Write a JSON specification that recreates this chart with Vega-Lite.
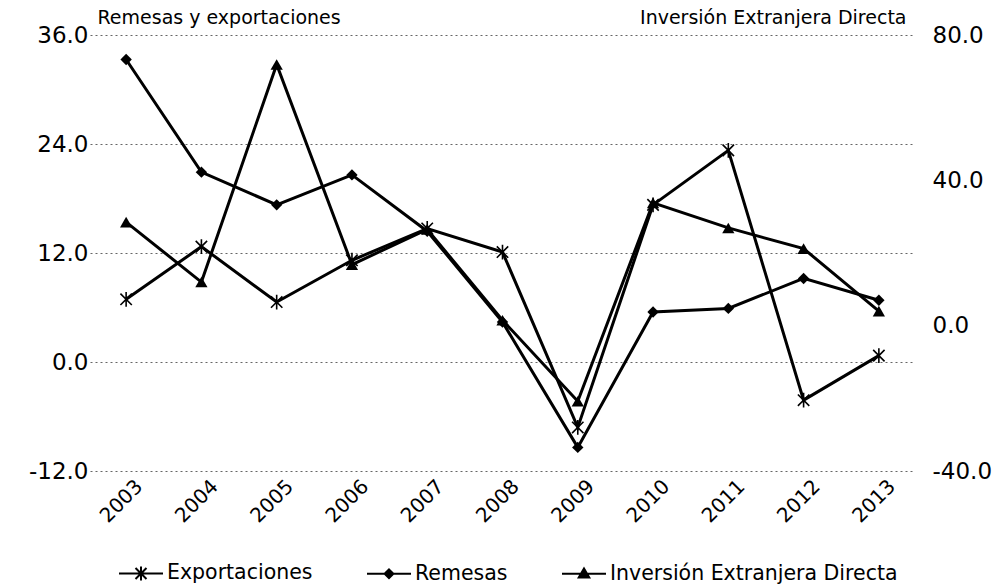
{
  "$schema": "https://vega.github.io/schema/vega-lite/v6.json",
  "autosize": {"type": "none"},
  "padding": {"left": 90, "top": 35, "right": 80, "bottom": 115},
  "width": 825,
  "height": 436,
  "background": "white",
  "config": {
    "view": {"stroke": null},
    "font": "DejaVu Sans",
    "locale": {"number": {"decimal": ".", "thousands": ",", "grouping": [3], "currency": ["$", ""], "minus": "-"}},
    "axis": {"labelFont": "DejaVu Sans", "titleFont": "DejaVu Sans", "labelColor": "#000", "titleColor": "#000"}
  },
  "data": {
    "values": [
      {"year": "2003", "series": "Exportaciones", "value": 6.9},
      {"year": "2004", "series": "Exportaciones", "value": 12.7},
      {"year": "2005", "series": "Exportaciones", "value": 6.6},
      {"year": "2006", "series": "Exportaciones", "value": 11.2},
      {"year": "2007", "series": "Exportaciones", "value": 14.7},
      {"year": "2008", "series": "Exportaciones", "value": 12.1},
      {"year": "2009", "series": "Exportaciones", "value": -7.2},
      {"year": "2010", "series": "Exportaciones", "value": 17.3},
      {"year": "2011", "series": "Exportaciones", "value": 23.3},
      {"year": "2012", "series": "Exportaciones", "value": -4.2},
      {"year": "2013", "series": "Exportaciones", "value": 0.7},
      {"year": "2003", "series": "Remesas", "value": 33.3},
      {"year": "2004", "series": "Remesas", "value": 20.9},
      {"year": "2005", "series": "Remesas", "value": 17.3},
      {"year": "2006", "series": "Remesas", "value": 20.6},
      {"year": "2007", "series": "Remesas", "value": 14.4},
      {"year": "2008", "series": "Remesas", "value": 4.4},
      {"year": "2009", "series": "Remesas", "value": -9.4},
      {"year": "2010", "series": "Remesas", "value": 5.5},
      {"year": "2011", "series": "Remesas", "value": 5.9},
      {"year": "2012", "series": "Remesas", "value": 9.2},
      {"year": "2013", "series": "Remesas", "value": 6.8},
      {"year": "2003", "series": "Inversión Extranjera Directa", "value": 28.5},
      {"year": "2004", "series": "Inversión Extranjera Directa", "value": 12.0},
      {"year": "2005", "series": "Inversión Extranjera Directa", "value": 71.9},
      {"year": "2006", "series": "Inversión Extranjera Directa", "value": 16.8},
      {"year": "2007", "series": "Inversión Extranjera Directa", "value": 26.5},
      {"year": "2008", "series": "Inversión Extranjera Directa", "value": 1.5},
      {"year": "2009", "series": "Inversión Extranjera Directa", "value": -20.8},
      {"year": "2010", "series": "Inversión Extranjera Directa", "value": 33.8},
      {"year": "2011", "series": "Inversión Extranjera Directa", "value": 26.9},
      {"year": "2012", "series": "Inversión Extranjera Directa", "value": 21.2},
      {"year": "2013", "series": "Inversión Extranjera Directa", "value": 4.0}
    ]
  },
  "encoding": {
    "x": {
      "field": "year", "type": "ordinal",
      "scale": {"type": "point", "padding": 0.48},
      "axis": {
        "title": null, "domain": false, "ticks": false, "grid": false,
        "labelAngle": -45, "labelAlign": "right", "labelBaseline": "middle",
        "labelFontSize": 20, "labelPadding": 12, "labelOffset": 13
      }
    }
  },
  "layer": [
    {
      "transform": [{"filter": "datum.series !== 'Inversión Extranjera Directa'"}],
      "encoding": {
        "y": {
          "field": "value", "type": "quantitative",
          "scale": {"domain": [-12, 36], "nice": false, "zero": false},
          "axis": {
            "orient": "left", "values": [-12, 0, 12, 24, 36], "format": ".1f",
            "domain": false, "ticks": false, "labelFontSize": 23, "labelPadding": 2,
            "grid": true, "gridColor": "#666", "gridDash": [2, 3], "gridWidth": 1,
            "title": "Remesas y exportaciones", "titleAngle": 0, "titleAlign": "left",
            "titleBaseline": "alphabetic", "titleX": 7, "titleY": -12,
            "titleFontSize": 19, "titleFontWeight": "normal"
          }
        }
      },
      "layer": [
        {
          "mark": {"type": "line", "color": "#000", "strokeWidth": 3},
          "encoding": {"detail": {"field": "series"}}
        },
        {
          "transform": [{"filter": "datum.series === 'Exportaciones'"}],
          "mark": {"type": "point", "shape": "M-1,-1L1,1M-1,1L1,-1M0,-1.3L0,1.3", "filled": false, "stroke": "#000", "strokeWidth": 1.6, "size": 130, "opacity": 1}
        },
        {
          "transform": [{"filter": "datum.series === 'Remesas'"}],
          "mark": {"type": "point", "shape": "diamond", "filled": true, "color": "#000", "size": 130, "opacity": 1}
        },
        {
          "mark": {"type": "point", "filled": false, "fill": "#000", "stroke": "#000", "strokeWidth": 2, "size": 0, "opacity": 0},
          "encoding": {
            "shape": {
              "field": "series", "type": "nominal",
              "scale": {
                "domain": ["Exportaciones", "Remesas", "Inversión Extranjera Directa"],
                "range": [
                  "M-1,0H1M-0.25,-0.25L0.25,0.25M-0.25,0.25L0.25,-0.25M0,-0.32V0.32",
                  "M-1,0H1M0,-0.2L0.2,0L0,0.2L-0.2,0Z",
                  "M-1,0H1M0,-0.24L0.24,0.17L-0.24,0.17Z"
                ]
              },
              "legend": {
                "orient": "none", "legendX": 28, "legendY": 515,
                "direction": "horizontal", "title": null, "padding": 0,
                "labelFont": "DejaVu Sans", "labelFontSize": 20.5, "labelColor": "#000",
                "labelLimit": 500, "labelOffset": 3, "columnPadding": 50,
                "symbolSize": 1936, "symbolStrokeWidth": 2, "symbolOpacity": 1
              }
            }
          }
        }
      ]
    },
    {
      "transform": [{"filter": "datum.series === 'Inversión Extranjera Directa'"}],
      "encoding": {
        "y": {
          "field": "value", "type": "quantitative",
          "scale": {"domain": [-40, 80], "nice": false, "zero": false},
          "axis": {
            "orient": "right", "values": [-40, 0, 40, 80], "format": ".1f",
            "domain": false, "ticks": false, "grid": false, "labelFontSize": 23, "labelPadding": 17,
            "title": "Inversión Extranjera Directa", "titleAngle": 0, "titleAlign": "right",
            "titleBaseline": "alphabetic", "titleX": -9, "titleY": -12,
            "titleFontSize": 19, "titleFontWeight": "normal"
          }
        }
      },
      "layer": [
        {
          "mark": {"type": "line", "color": "#000", "strokeWidth": 3},
          "encoding": {"detail": {"field": "series"}}
        },
        {
          "mark": {"type": "point", "shape": "triangle-up", "filled": true, "color": "#000", "size": 150, "opacity": 1}
        }
      ]
    }
  ],
  "resolve": {"scale": {"y": "independent"}, "axis": {"y": "independent"}}
}
